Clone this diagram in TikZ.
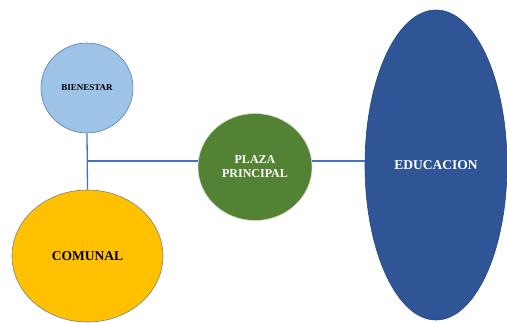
\documentclass[tikz,border=0pt]{standalone}
\usepackage{fontspec}
\setmainfont{Liberation Serif}
\usetikzlibrary{shapes.geometric}
\definecolor{lineblue}{HTML}{4472C4}
\definecolor{bienfill}{HTML}{9DC3E6}
\definecolor{bienedge}{HTML}{5B7FA8}
\definecolor{comfill}{HTML}{FFC000}
\definecolor{comedge}{HTML}{7F7F7F}
\definecolor{plazafill}{HTML}{548235}
\definecolor{plazaedge}{HTML}{C9DCC0}
\definecolor{edufill}{HTML}{2F5597}
\definecolor{eduedge}{HTML}{26467C}
\begin{document}
\begin{tikzpicture}[x=1pt,y=-1pt,
    blob/.style={ellipse, inner sep=0pt, align=center, line width=0.6pt},
    link/.style={draw=lineblue, line width=1.3pt}]
\useasboundingbox (0,0) rectangle (507,322);
% the four places
\node[blob, fill=bienfill, draw=bienedge, minimum width=92, minimum height=90,
    font=\bfseries\fontsize{9}{10}\selectfont] (bien) at (87,88) {BIENESTAR};
\node[blob, fill=comfill, draw=comedge, minimum width=151, minimum height=132,
    font=\bfseries\fontsize{13.5}{15}\selectfont] (com) at (87.5,256) {COMUNAL};
\node[blob, fill=plazafill, draw=plazaedge, minimum width=114, minimum height=107,
    text=white, font=\bfseries\fontsize{12}{14}\selectfont] (plaza) at (255,167) {PLAZA\\PRINCIPAL};
\node[blob, fill=edufill, draw=eduedge, minimum width=142, minimum height=310,
    text=white, font=\bfseries\fontsize{13.5}{15}\selectfont] (edu) at (436,165) {EDUCACION};
% connectors
\coordinate (joint) at (87,161);
\draw[link] (bien.south) -- (com.north);
\draw[link] (joint) -- (plaza.west |- joint);
\draw[link] (plaza.east |- joint) -- (edu.west |- joint);
\end{tikzpicture}
\end{document}
